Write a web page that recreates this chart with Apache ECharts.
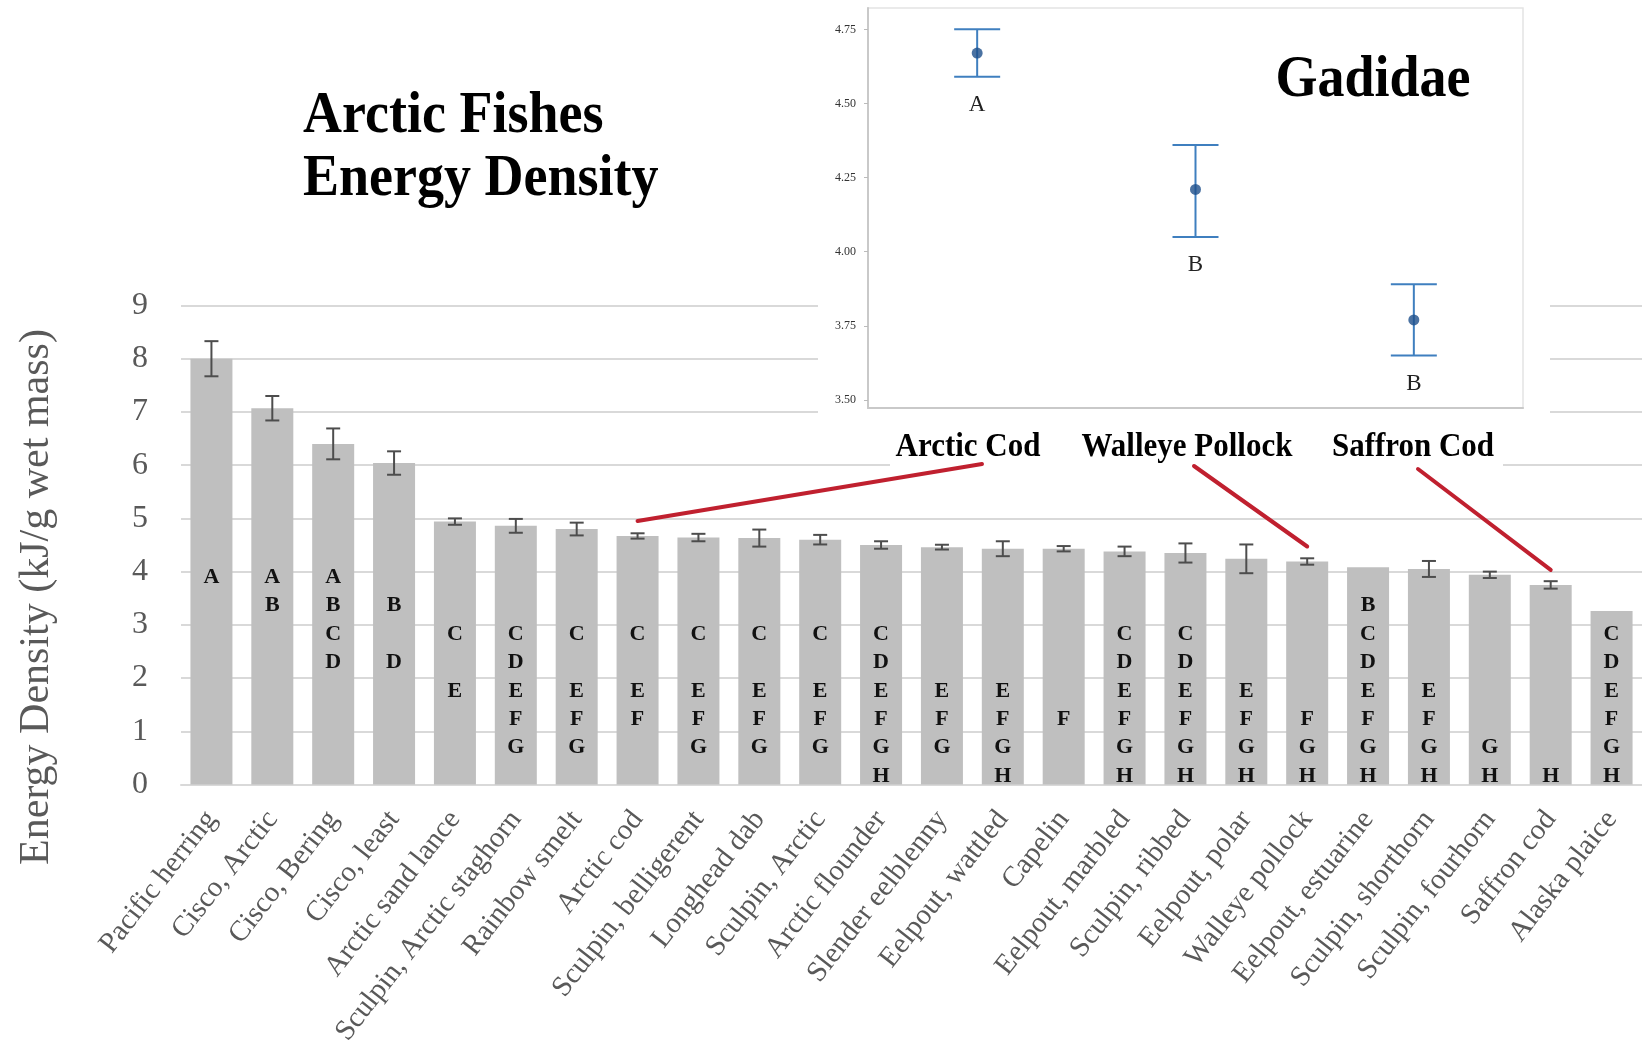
<!DOCTYPE html>
<html>
<head>
<meta charset="utf-8">
<title>Arctic Fishes Energy Density</title>
<script src="https://cdn.jsdelivr.net/npm/echarts@6/dist/echarts.min.js"></script>
<style>
  html, body { margin: 0; padding: 0; background: #ffffff; }
  #chart { width: 1642px; height: 1058px; }
</style>
</head>
<body>
<div id="chart"></div>
<script>
// ---- Energy density by species (kJ/g wet mass) ----
const categories = [
  'Pacific herring', 'Cisco, Arctic', 'Cisco, Bering', 'Cisco, least',
  'Arctic sand lance', 'Sculpin, Arctic staghorn', 'Rainbow smelt', 'Arctic cod',
  'Sculpin, belligerent', 'Longhead dab', 'Sculpin, Arctic', 'Arctic flounder',
  'Slender eelblenny', 'Eelpout, wattled', 'Capelin', 'Eelpout, marbled',
  'Sculpin, ribbed', 'Eelpout, polar', 'Walleye pollock', 'Eelpout, estuarine',
  'Sculpin, shorthorn', 'Sculpin, fourhorn', 'Saffron cod', 'Alaska plaice'
];
const energy = [
  8.00, 7.07, 6.40, 6.04, 4.94, 4.86, 4.80, 4.67,
  4.64, 4.63, 4.60, 4.50, 4.46, 4.43, 4.43, 4.38,
  4.35, 4.24, 4.19, 4.08, 4.05, 3.94, 3.75, 3.26
];
// standard error (null = no error bar drawn)
const stdErr = [
  0.33, 0.23, 0.29, 0.22, 0.06, 0.13, 0.12, 0.05,
  0.07, 0.16, 0.09, 0.07, 0.045, 0.14, 0.05, 0.09,
  0.18, 0.27, 0.06, null, 0.15, 0.06, 0.07, null
];
// significance groupings (Tukey letters)
const groups = [
  'A', 'AB', 'ABCD', 'BD', 'CE', 'CDEFG', 'CEFG', 'CEF',
  'CEFG', 'CEFG', 'CEFG', 'CDEFGH', 'EFG', 'EFGH', 'F', 'CDEFGH',
  'CDEFGH', 'EFGH', 'FGH', 'BCDEFGH', 'EFGH', 'GH', 'H', 'CDEFGH'
];

// ---- Gadidae inset: mean with confidence interval ----
const gadidNames = ['Arctic Cod', 'Walleye Pollock', 'Saffron Cod'];
const gadidMean = [4.67, 4.21, 3.77];
const gadidLow = [4.59, 4.05, 3.65];
const gadidHigh = [4.75, 4.36, 3.89];
const gadidGroups = ['A', 'B', 'B'];
const gadidTicks = [3.50, 3.75, 4.00, 4.25, 4.50, 4.75];
// bars in the main chart that each Gadidae callout points to
const gadidBarIndex = [7, 18, 22];

const SERIF = "'Liberation Serif', 'Times New Roman', 'DejaVu Serif', serif";
const AXIS_GREY = '#595959';
const GRID_GREY = '#d9d9d9';

const chart = echarts.init(document.getElementById('chart'), null, { renderer: 'canvas' });

// letter rows inside the bars: row for 'A' at the top, each next letter one step lower
const LETTER_TOP = 3.9;
const LETTER_STEP = 0.535;

function renderLetters(params, api) {
  const idx = api.value(0);
  const letters = groups[params.dataIndex].split('');
  const children = letters.map(function (ch) {
    const row = ch.charCodeAt(0) - 65;
    const p = api.coord([idx, LETTER_TOP - row * LETTER_STEP]);
    return {
      type: 'text',
      style: {
        x: p[0], y: p[1], text: ch,
        font: 'bold 22px ' + SERIF, fill: '#111111',
        align: 'center', verticalAlign: 'middle'
      }
    };
  });
  return { type: 'group', children: children };
}

function renderErrorBar(capHalf, color, width) {
  return function (params, api) {
    const idx = api.value(0);
    const lo = api.coord([idx, api.value(1)]);
    const hi = api.coord([idx, api.value(2)]);
    const st = { stroke: color, lineWidth: width };
    return {
      type: 'group',
      children: [
        { type: 'line', shape: { x1: lo[0], y1: lo[1], x2: hi[0], y2: hi[1] }, style: st },
        { type: 'line', shape: { x1: hi[0] - capHalf, y1: hi[1], x2: hi[0] + capHalf, y2: hi[1] }, style: st },
        { type: 'line', shape: { x1: lo[0] - capHalf, y1: lo[1], x2: lo[0] + capHalf, y2: lo[1] }, style: st }
      ]
    };
  };
}

const errData = [];
energy.forEach(function (v, i) {
  if (stdErr[i] != null) errData.push([i, v - stdErr[i], v + stdErr[i]]);
});

const gadidErrData = gadidMean.map(function (m, i) { return [i, gadidLow[i], gadidHigh[i]]; });

function boldText(text, x, y, size, sy, align) {
  return {
    type: 'text', z: 5, x: x, y: y, scaleY: sy,
    style: { text: text, font: 'bold ' + size + 'px ' + SERIF, fill: '#000000', align: align, verticalAlign: 'middle' }
  };
}

const option = {
  backgroundColor: '#ffffff',
  animation: false,
  grid: [
    { left: 181, top: 305.5, width: 1467.6, height: 479 },
    {
      left: 868, top: 8, width: 655, height: 400, show: true, z: 2,
      backgroundColor: 'transparent', borderColor: '#e4e4e4', borderWidth: 1.5
    }
  ],
  xAxis: [
    {
      type: 'category', gridIndex: 0, data: categories,
      axisTick: { show: false },
      axisLine: { lineStyle: { color: GRID_GREY, width: 2 } },
      axisLabel: {
        interval: 0, rotate: 52, margin: 30,
        fontFamily: SERIF, fontSize: 29, color: AXIS_GREY
      }
    },
    {
      type: 'category', gridIndex: 1, data: gadidNames, z: 3,
      axisLine: { lineStyle: { color: '#c9c9c9', width: 2 } },
      axisTick: { alignWithLabel: true, length: 4, lineStyle: { color: '#bbbbbb' } },
      axisLabel: { show: false }
    }
  ],
  yAxis: [
    {
      type: 'value', gridIndex: 0, min: 0, max: 9, interval: 1,
      axisLine: { show: false }, axisTick: { show: false },
      axisLabel: { fontFamily: SERIF, fontSize: 32, color: AXIS_GREY, margin: 33 },
      splitLine: { lineStyle: { color: GRID_GREY, width: 2 } }
    },
    {
      type: 'value', gridIndex: 1, min: 3.473, max: 4.822, z: 3,
      axisLine: { show: true, lineStyle: { color: '#c9c9c9', width: 2 } },
      axisTick: { show: true, length: 4, customValues: gadidTicks, lineStyle: { color: '#bbbbbb' } },
      axisLabel: {
        customValues: gadidTicks, margin: 12,
        fontFamily: SERIF, fontSize: 12, color: '#333333',
        formatter: function (v) { return v.toFixed(2); }
      },
      splitLine: { show: false }
    }
  ],
  graphic: [
    // blank panels behind the inset and the callout labels
    { type: 'rect', z: 1, shape: { x: 818, y: 0, width: 732, height: 421 }, style: { fill: '#ffffff' } },
    { type: 'rect', z: 1, shape: { x: 890, y: 420, width: 613, height: 58 }, style: { fill: '#ffffff' } },
    boldText('Arctic Fishes', 303, 117, 54, 1.1, 'left'),
    boldText('Energy Density', 303, 180, 54, 1.1, 'left'),
    {
      type: 'text', z: 5, x: 37, y: 597, rotation: Math.PI / 2,
      style: {
        text: 'Energy Density (kJ/g wet mass)', font: '42px ' + SERIF, fill: AXIS_GREY,
        align: 'center', verticalAlign: 'middle'
      }
    },
    boldText('Gadidae', 1373, 81, 54, 1.1, 'center'),
    boldText(gadidNames[0], 968, 447, 31, 1.1, 'center'),
    boldText(gadidNames[1], 1187, 447, 31, 1.1, 'center'),
    boldText(gadidNames[2], 1413, 447, 31, 1.1, 'center')
  ],
  series: [
    {
      name: 'Energy density', type: 'bar', xAxisIndex: 0, yAxisIndex: 0,
      data: energy, barWidth: '69%', z: 2,
      itemStyle: { color: '#bfbfbf' }
    },
    {
      name: 'Std. error', type: 'custom', xAxisIndex: 0, yAxisIndex: 0, z: 3,
      renderItem: renderErrorBar(7, '#4d4d4d', 2),
      encode: { x: 0, y: [1, 2] },
      data: errData
    },
    {
      name: 'Groupings', type: 'custom', xAxisIndex: 0, yAxisIndex: 0, z: 4,
      renderItem: renderLetters,
      encode: { x: 0, y: 1 },
      data: energy.map(function (v, i) { return [i, v]; })
    },
    {
      name: 'Gadidae CI', type: 'custom', xAxisIndex: 1, yAxisIndex: 1, z: 6,
      renderItem: function (params, api) {
        const base = renderErrorBar(23, '#3f7fbf', 2)(params, api);
        const lo = api.coord([api.value(0), api.value(1)]);
        base.children.push({
          type: 'text',
          style: {
            x: lo[0], y: lo[1] + 28, text: gadidGroups[params.dataIndex],
            font: '23px ' + SERIF, fill: '#222222', align: 'center', verticalAlign: 'middle'
          }
        });
        return base;
      },
      encode: { x: 0, y: [1, 2] },
      data: gadidErrData
    },
    {
      name: 'Gadidae mean', type: 'scatter', xAxisIndex: 1, yAxisIndex: 1, z: 7,
      symbolSize: 11, itemStyle: { color: '#1d4f8b' },
      data: gadidMean.map(function (m, i) { return [i, m]; })
    }
  ]
};

chart.setOption(option);

// callout lines from each Gadidae label down to its bar in the main chart
const calloutStarts = [[982, 464], [1194, 466], [1418, 469]];
const callouts = gadidBarIndex.map(function (bi, k) {
  const end = chart.convertToPixel({ gridIndex: 0 }, [bi, energy[bi]]);
  return {
    type: 'line', z: 8,
    shape: { x1: calloutStarts[k][0], y1: calloutStarts[k][1], x2: end[0], y2: end[1] - 15 },
    style: { stroke: '#c0202f', lineWidth: 4, lineCap: 'round' }
  };
});
chart.setOption({ graphic: option.graphic.concat(callouts) });
</script>
</body>
</html>
